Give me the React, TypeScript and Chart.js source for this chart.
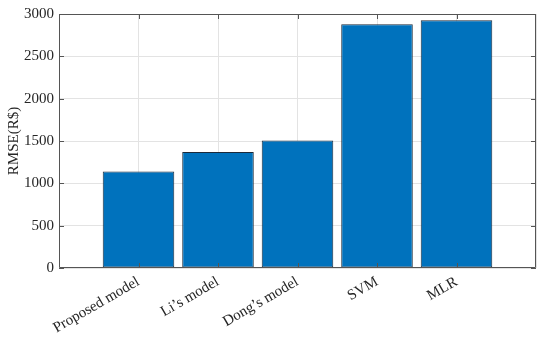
import React, { useEffect, useRef } from "react";
import { Chart, registerables } from "chart.js";

Chart.register(...registerables);

const categories = ["Proposed model", "Li’s model", "Dong’s model", "SVM", "MLR"];
const rmseValues = [1140, 1370, 1505, 2880, 2925];
const yTicks = [0, 500, 1000, 1500, 2000, 2500, 3000];
const yTitle = "RMSE(R$)";

const FONT = "'Liberation Serif', 'Times New Roman', serif";

const boxPlugin = {
  id: "matlabBox",
  afterDatasetsDraw(chart: any) {
    const { ctx, chartArea, scales } = chart;
    const { left, right, top, bottom } = chartArea;
    ctx.save();
    ctx.strokeStyle = "#555555";
    ctx.lineWidth = 1;
    ctx.beginPath();
    ctx.rect(left + 0.5, top + 0.5, right - left - 1, bottom - top - 1);
    const tl = 5;
    yTicks.forEach((v) => {
      const y = Math.round(scales.y.getPixelForValue(v)) + 0.5;
      ctx.moveTo(left, y);
      ctx.lineTo(left + tl, y);
      ctx.moveTo(right, y);
      ctx.lineTo(right - tl, y);
    });
    categories.forEach((_, i) => {
      const x = Math.round(scales.x.getPixelForValue(i + 1)) + 0.5;
      ctx.moveTo(x, bottom);
      ctx.lineTo(x, bottom - tl);
      ctx.moveTo(x, top);
      ctx.lineTo(x, top + tl);
    });
    ctx.stroke();
    ctx.restore();
  },
};

export default function App() {
  const canvasRef = useRef<HTMLCanvasElement | null>(null);

  useEffect(() => {
    if (!canvasRef.current) return;
    const chart = new Chart(canvasRef.current, {
      type: "bar",
      data: {
        datasets: [
          {
            data: categories.map((c, i) => ({ x: i + 1, y: rmseValues[i] })),
            backgroundColor: "#0072BD",
            borderColor: "#1c2a3a",
            borderWidth: 1,
            borderSkipped: false,
            categoryPercentage: 1,
            barPercentage: 0.9,
          },
        ],
      },
      options: {
        animation: false,
        responsive: true,
        maintainAspectRatio: false,
        layout: { padding: { top: 14, right: 9, left: 0, bottom: 0 } },
        plugins: {
          legend: { display: false },
          tooltip: { enabled: false },
        },
        scales: {
          x: {
            type: "linear",
            min: 0,
            max: 6,
            offset: false,
            afterFit: (scale: any) => {
              scale.height = 72;
            },
            ticks: {
              stepSize: 1,
              autoSkip: false,
              maxRotation: 30,
              minRotation: 30,
              padding: 5,
              color: "#262626",
              font: { family: FONT, size: 15 },
              callback: (v: any) => categories[Number(v) - 1] ?? "",
            },
            grid: { color: "#e3e3e3", drawTicks: false, lineWidth: 1, offset: false },
            border: { display: false },
          },
          y: {
            min: 0,
            max: 3000,
            afterFit: (scale: any) => {
              scale.width = 59;
            },
            afterBuildTicks: (scale: any) => {
              scale.ticks = yTicks.map((v) => ({ value: v }));
            },
            ticks: {
              padding: 5,
              color: "#262626",
              font: { family: FONT, size: 15 },
              callback: (v: any) => String(v),
            },
            title: {
              display: true,
              text: yTitle,
              color: "#262626",
              font: { family: FONT, size: 15 },
              padding: { top: 5, bottom: 0 },
            },
            grid: { color: "#e3e3e3", drawTicks: false, lineWidth: 1 },
            border: { display: false },
          },
        },
      },
      plugins: [boxPlugin],
    } as any);
    return () => chart.destroy();
  }, []);

  return (
    <div style={{ position: "fixed", left: 0, top: 0, width: 550, height: 340, background: "#fff" }}>
      <canvas ref={canvasRef} />
    </div>
  );
}
